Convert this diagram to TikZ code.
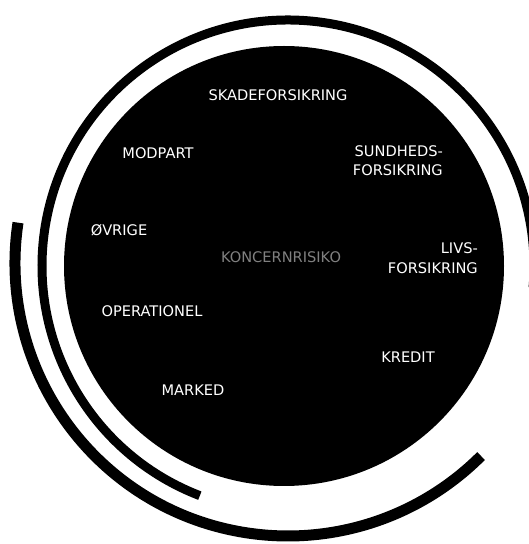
\documentclass[tikz,border=0pt]{standalone}
\usepackage{fontspec}
\setmainfont{DejaVu Sans}
\begin{document}
\begin{tikzpicture}[x=1pt, y=1pt, line cap=butt,
  risk/.style={text=white, inner sep=0pt, font=\fontsize{14.6}{19.5}\selectfont, align=center}]
  \useasboundingbox (0,0) rectangle (529,544);

  % Centres
  \coordinate (O) at (284,278);
  \coordinate (O1) at (288,278);
  \coordinate (O2) at (288,281);

  % Disk
  \fill (O) circle (220);

  % Rings
  \draw[line width=9pt] ([shift={(-5:246)}]O1) arc (-5:249:246);
  \draw[line width=11pt] ([shift={(171.5:273)}]O2) arc (171.5:315:273);

  % Labels
  \node[risk] (skade) at (278,449) {SKADEFORSIKRING};
  \node[risk] (modpart) at (158,391) {MODPART};
  \node[risk, align=right, anchor=east] (sundheds) at (443,383.5) {SUNDHEDS-\\FORSIKRING};
  \node[risk] (ovrige) at (119,314) {ØVRIGE};
  \node[risk, text=gray] (koncern) at (281,287) {KONCERNRISIKO};
  \node[risk, align=right, anchor=east] (livs) at (478,286) {LIVS-\\FORSIKRING};
  \node[risk] (operationel) at (152,233) {OPERATIONEL};
  \node[risk] (kredit) at (408,187) {KREDIT};
  \node[risk] (marked) at (193,154) {MARKED};
\end{tikzpicture}
\end{document}
